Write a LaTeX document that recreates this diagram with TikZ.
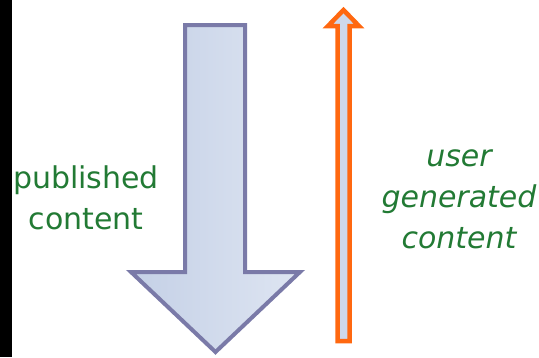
\documentclass[tikz,border=0pt]{standalone}
\usepackage{fontspec}
\setmainfont{DejaVu Sans}
\definecolor{txtgreen}{RGB}{34,122,52}
\definecolor{downline}{RGB}{122,122,168}
\definecolor{downleft}{RGB}{196,208,230}
\definecolor{downright}{RGB}{222,229,242}
\definecolor{upline}{RGB}{255,104,16}
\definecolor{upfill}{RGB}{206,216,234}
\begin{document}
\begin{tikzpicture}[x=1pt,y=-1pt,
	lbl/.style={text=txtgreen,align=center,font=\fontsize{30}{41}\selectfont},
	down/.style={draw=downline,line width=4pt,left color=downleft,right color=downright},
	up/.style={draw=upline,line width=4.5pt,fill=upfill}]
	\useasboundingbox (0,0) rectangle (539,357);
	\fill[black] (0,0) rectangle (12,357);

	\draw[down] (185,25) -- (245,25) -- (245,272) -- (300,272) -- (215.5,352) -- (131,272) -- (185,272) -- cycle;
	\draw[up] (337.5,341) -- (337.5,26) -- (328,26) -- (343.5,10) -- (359,26) -- (349.5,26) -- (349.5,341) -- cycle;

	\node[lbl] (pub) at (86,198) {published\\content};
	\node[lbl,font=\fontsize{30}{41}\selectfont\itshape] (ugc) at (459,199) {user\\generated\\content};
\end{tikzpicture}
\end{document}
